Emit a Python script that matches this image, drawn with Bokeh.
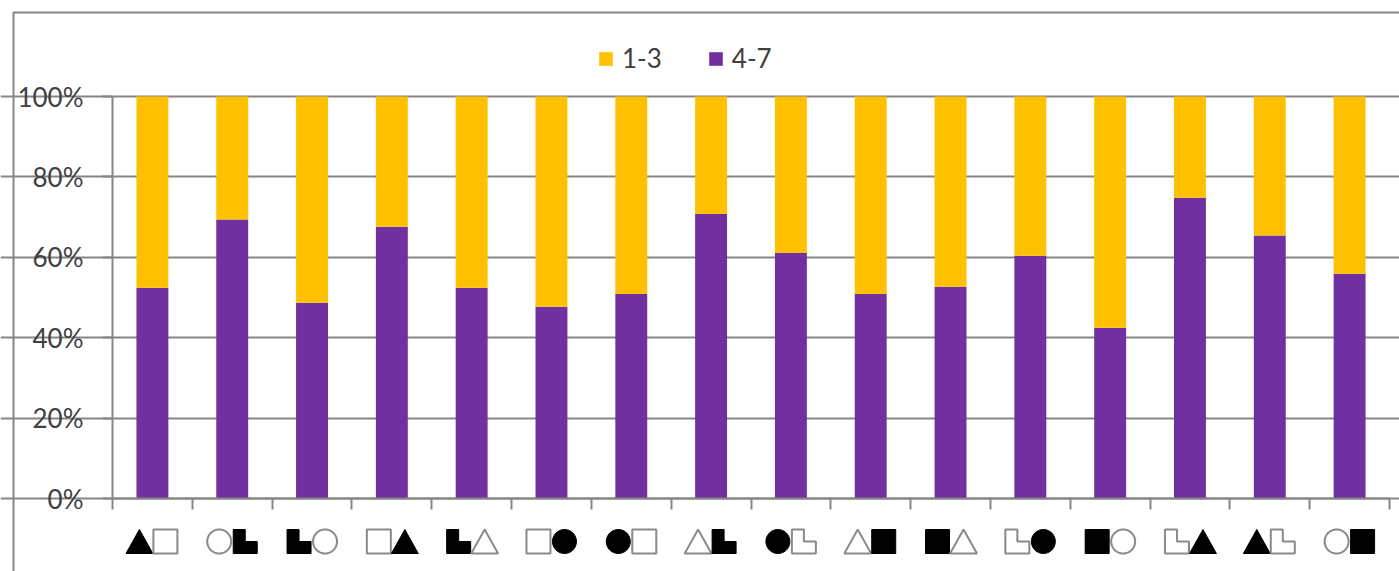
import math
from bokeh.embed import file_html
from bokeh.resources import INLINE
from bokeh.plotting import figure
from bokeh.models import (ColumnDataSource, FixedTicker, BoxAnnotation, PolyAnnotation,
                          Legend, LegendItem, Range1d, LinearAxis, Grid)

first_shape = ["tri_f","cir_o","ell_f","sq_o","ell_f","sq_o","cir_f","tri_o","cir_f","tri_o","sq_f","ell_o","sq_f","ell_o","tri_f","cir_o"]
second_shape = ["sq_o","ell_f","cir_o","tri_f","tri_o","cir_f","sq_o","ell_f","ell_o","sq_f","tri_o","cir_f","cir_o","tri_f","ell_o","sq_f"]
low = [47.6,30.6,51.3,32.4,47.6,52.3,49.1,29.2,38.9,49.1,47.3,39.6,57.5,25.2,34.6,44.1]
high = [52.4,69.4,48.7,67.6,52.4,47.7,50.9,70.8,61.1,50.9,52.7,60.4,42.5,74.8,65.4,55.9]
y_ticks = [0,20,40,60,80,100]

W, H = 1399, 571
X0, X1, Y100, Y0 = 112, 1389, 96, 498
GRAY = "#868686"
TXT = "#404040"
FONT = "Lato"

ux = (X1 - X0) / 16
uy = (Y0 - Y100) / 100

p = figure(width=W, height=H, output_backend="svg", toolbar_location=None,
           x_range=Range1d(-X0 / ux, (W - X0) / ux),
           y_range=Range1d(-(H - Y0) / uy, (Y0) / uy),
           x_axis_location=None, y_axis_location=None,
           min_border=0,
           background_fill_color="white", border_fill_color="white", outline_line_color=None)
p.grid.visible = False

src = ColumnDataSource(dict(x=[i+0.5 for i in range(16)], high=high, low=low))
rs = p.vbar_stack(["high","low"], x="x", width=0.4, color=["#7030A0","#FFC000"], source=src, line_color=None)

ax = LinearAxis(fixed_location=0, bounds=(0,16), ticker=FixedTicker(ticks=list(range(17))))
ax.major_label_text_font_size = "0px"
ax.major_label_text_color = None
ax.axis_line_color = GRAY; ax.axis_line_width = 2
ax.major_tick_line_color = GRAY; ax.major_tick_line_width = 2
ax.major_tick_out = 11; ax.major_tick_in = 0
ax.minor_tick_line_color = None
p.add_layout(ax, "below")

ay = LinearAxis(fixed_location=0, bounds=(0,100), ticker=FixedTicker(ticks=y_ticks))
ay.major_label_overrides = {v: f"{v}%" for v in y_ticks}
ay.major_label_text_font = FONT
ay.major_label_text_font_size = "26px"
ay.major_label_text_color = TXT
ay.major_label_standoff = 19
ay.axis_line_color = GRAY; ay.axis_line_width = 2
ay.major_tick_line_color = GRAY; ay.major_tick_line_width = 2
ay.major_tick_out = 10; ay.major_tick_in = 0
ay.minor_tick_line_color = None
p.add_layout(ay, "left")

grid = Grid(dimension=1, ticker=FixedTicker(ticks=y_ticks), bounds=(0,16),
            grid_line_color=GRAY, grid_line_width=2)
p.add_layout(grid, "center")

# chart-area border (top and left edges visible in the crop)
p.add_layout(BoxAnnotation(left=13, right=W+20, top=12, bottom=H+20,
                           left_units="canvas", right_units="canvas", top_units="canvas", bottom_units="canvas",
                           fill_color=None, line_color=GRAY, line_alpha=1, line_width=2))

ICON = 24
CY0, CY1 = 529, 553

def outline(kind):
    if kind == "sq":
        return [(0,0),(1,0),(1,1),(0,1)]
    if kind == "tri":
        return [(0.5,0),(1.06,1),(-0.06,1)]
    if kind == "ell":
        return [(0,0),(0.5,0),(0.5,0.5),(1,0.5),(1,1),(0,1)]
    return [(0.5+0.5*math.cos(2*math.pi*k/48), 0.5+0.5*math.sin(2*math.pi*k/48)) for k in range(48)]

def icon(center, code):
    kind, fill = code.split("_")
    pts = outline(kind)
    xs = [center + (a - 0.5) * ICON / ux for a, _ in pts]
    ys = [CY0 + b * (CY1 - CY0) for _, b in pts]
    solid = fill == "f"
    p.add_layout(PolyAnnotation(xs=xs, ys=ys, xs_units="data", ys_units="canvas",
                                fill_color="black" if solid else "white", fill_alpha=1,
                                line_alpha=1,
                                line_color="black" if solid else "#8a8a8a", line_width=1 if solid else 2))

for i, (a, b) in enumerate(zip(first_shape, second_shape)):
    c = i + 0.5
    icon(c - 13 / ux, a)
    icon(c + 13 / ux, b)

legend = Legend(items=[LegendItem(label="1-3", renderers=[rs[1]]), LegendItem(label="4-7", renderers=[rs[0]])],
                orientation="horizontal", location=(597, 497),
                glyph_width=17, glyph_height=17, label_standoff=8, spacing=45,
                padding=0, margin=0, border_line_color=None, background_fill_alpha=0,
                label_text_font=FONT, label_text_font_size="26px", label_text_color=TXT)
p.add_layout(legend)

open("out.html", "w").write(file_html(p, INLINE))
